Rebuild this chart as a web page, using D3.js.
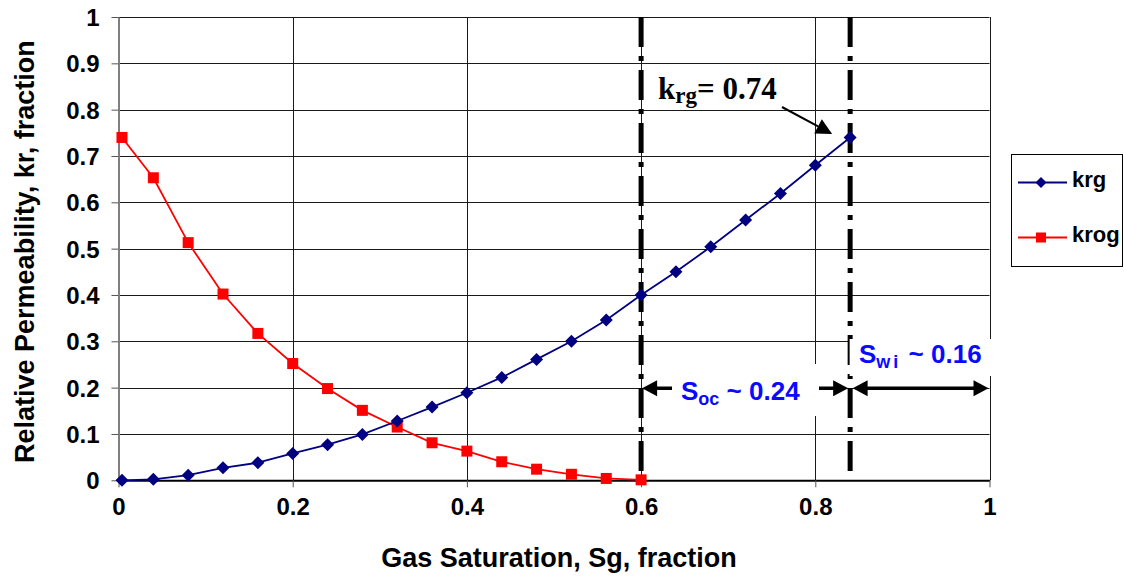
<!DOCTYPE html>
<html>
<head>
<meta charset="utf-8">
<script src="https://cdn.jsdelivr.net/npm/d3@7"></script>
<style>
  html, body { margin: 0; padding: 0; background: #fff; }
  svg { display: block; }
</style>
</head>
<body>
<svg id="chart" width="1124" height="577" font-family="Liberation Sans, Arial, sans-serif" font-weight="bold"></svg>
<script>
// Gas saturation (fraction) at each measured point
const sg = [0.004, 0.04, 0.08, 0.12, 0.16, 0.20, 0.24, 0.28, 0.32, 0.36, 0.40,
            0.44, 0.48, 0.52, 0.56, 0.60, 0.64, 0.68, 0.72, 0.76, 0.80, 0.84];
// Gas relative permeability
const krg = [0.000, 0.002, 0.011, 0.027, 0.038, 0.058, 0.077, 0.099, 0.128, 0.158, 0.189,
             0.222, 0.261, 0.300, 0.346, 0.400, 0.450, 0.504, 0.562, 0.619, 0.680, 0.740];
// Oil relative permeability in presence of gas (first 16 saturations)
const krog = [0.740, 0.653, 0.513, 0.402, 0.317, 0.252, 0.198, 0.151, 0.115, 0.081, 0.063,
              0.040, 0.024, 0.013, 0.004, 0.001];

// End-point saturations
const swi = 0.16;   // connate water
const soc = 0.24;   // critical oil

const xTicks = [0, 0.2, 0.4, 0.6, 0.8, 1];
const xTickLabels = ["0", "0.2", "0.4", "0.6", "0.8", "1"];
const yTicks = [0, 0.1, 0.2, 0.3, 0.4, 0.5, 0.6, 0.7, 0.8, 0.9, 1];
const yTickLabels = ["0", "0.1", "0.2", "0.3", "0.4", "0.5", "0.6", "0.7", "0.8", "0.9", "1"];

const sans = "Liberation Sans, Arial, sans-serif";
const serif = "Liberation Serif, Times New Roman, serif";

const svg = d3.select("#chart");
const x = d3.scaleLinear().domain([0, 1]).range([118.5, 989.5]);
const y = d3.scaleLinear().domain([0, 1]).range([480.3, 17]);
const [x0, x1] = x.range();
const [y0, y1] = y.range();

// Gridlines
const grid = svg.append("g").attr("stroke", "#1a1a1a").attr("stroke-width", 1);
grid.selectAll("line.h").data(yTicks.filter(v => v > 0)).join("line")
  .attr("x1", x0).attr("x2", x1)
  .attr("y1", d => Math.round(y(d)) + 0.5).attr("y2", d => Math.round(y(d)) + 0.5);
grid.selectAll("line.v").data(xTicks.filter(v => v > 0)).join("line")
  .attr("y1", y0).attr("y2", y1)
  .attr("x1", d => Math.round(x(d)) + 0.5).attr("x2", d => Math.round(x(d)) + 0.5);

// Axes
const yAxis = svg.append("g").attr("transform", `translate(${x0},0)`)
  .call(d3.axisLeft(y).tickValues(yTicks).tickFormat((d, i) => yTickLabels[i])
    .tickSizeInner(7).tickSizeOuter(0).tickPadding(12));
yAxis.select(".domain").attr("stroke", "#808080").attr("stroke-width", 2);
yAxis.selectAll(".tick line").attr("stroke", "#555");
yAxis.selectAll(".tick text").attr("font-size", 24).attr("fill", "#000")
  .attr("font-family", sans).attr("font-weight", "bold")
  .attr("dy", "0.36em");

const xAxis = svg.append("g").attr("transform", `translate(0,${y0})`)
  .call(d3.axisBottom(x).tickValues(xTicks).tickFormat((d, i) => xTickLabels[i])
    .tickSizeInner(7).tickSizeOuter(0).tickPadding(11));
xAxis.select(".domain").attr("stroke", "#000").attr("stroke-width", 2);
xAxis.selectAll(".tick line").attr("stroke", "#555");
xAxis.selectAll(".tick text").attr("font-size", 24).attr("fill", "#000")
  .attr("font-family", sans).attr("font-weight", "bold");

// Axis titles
svg.append("text").attr("x", (x0 + x1) / 2 + 5).attr("y", 567)
  .attr("text-anchor", "middle").attr("font-size", 27).text("Gas Saturation, Sg, fraction");
svg.append("text").attr("transform", `translate(34,${(y0 + y1) / 2 + 3}) rotate(-90)`)
  .attr("text-anchor", "middle").attr("font-size", 27).text("Relative Permeability, kr, fraction");

// End-point saturation markers (dash-dot verticals)
const endPoints = [1 - swi - soc, 1 - swi];
svg.append("g").selectAll("line").data(endPoints).join("line")
  .attr("x1", d => x(d)).attr("x2", d => x(d))
  .attr("y1", y1).attr("y2", y0)
  .attr("stroke", "#000").attr("stroke-width", 5)
  .attr("stroke-dasharray", "30,9,5,9");

// Series
const krgPts = sg.map((s, i) => [s, krg[i]]);
const krogPts = krog.map((k, i) => [sg[i], k]);
const line = d3.line().x(d => x(d[0])).y(d => y(d[1]));

svg.append("path").datum(krogPts).attr("d", line)
  .attr("fill", "none").attr("stroke", "#ff0000").attr("stroke-width", 1.8);
svg.append("g").selectAll("rect").data(krogPts).join("rect")
  .attr("x", d => x(d[0]) - 5.5).attr("y", d => y(d[1]) - 5.5)
  .attr("width", 11).attr("height", 11).attr("fill", "#ff0000");

svg.append("path").datum(krgPts).attr("d", line)
  .attr("fill", "none").attr("stroke", "#000080").attr("stroke-width", 1.8);
const diamond = r => `M0,${-r}L${r},0L0,${r}L${-r},0Z`;
svg.append("g").selectAll("path").data(krgPts).join("path")
  .attr("transform", d => `translate(${x(d[0])},${y(d[1])})`)
  .attr("d", diamond(6.5)).attr("fill", "#000080");

// Double-headed span arrows
const arrowY = y(0.2) + 0.6;
function headPath(tipX, dir) {
  // dir = -1 points left, +1 points right
  return `M${tipX},${arrowY}L${tipX - dir * 15},${arrowY - 8}L${tipX - dir * 15},${arrowY + 8}Z`;
}
const spans = [[1 - swi - soc, 1 - swi], [1 - swi, 1]];
const arrows = svg.append("g");
spans.forEach(([a, b], i) => {
  const xa = x(a) + (i === 0 ? 1 : 2.5);
  const xb = x(b) - (i === 0 ? 2 : 1);
  arrows.append("line").attr("x1", xa + 10).attr("x2", xb - 10)
    .attr("y1", arrowY).attr("y2", arrowY).attr("stroke", "#000").attr("stroke-width", 3.5);
  arrows.append("path").attr("d", headPath(xa, -1)).attr("fill", "#000");
  arrows.append("path").attr("d", headPath(xb, 1)).attr("fill", "#000");
});

// Span labels on white backing
const blue = "#0a0aff";
svg.append("rect").attr("x", 672).attr("y", 364).attr("width", 147).attr("height", 52).attr("fill", "#fff");
const tOc = svg.append("text").attr("x", 681).attr("y", 400).attr("font-size", 26).attr("fill", blue);
tOc.append("tspan").text("S");
tOc.append("tspan").attr("font-size", 18).attr("dy", 5).text("oc");
tOc.append("tspan").attr("dy", -5).text(" ~ " + soc.toFixed(2));

svg.append("rect").attr("x", x(1 - swi) - 0.5).attr("y", 339).attr("width", 146).attr("height", 37).attr("fill", "#fff");
const tWi = svg.append("text").attr("x", 859).attr("y", 363).attr("font-size", 26).attr("fill", blue);
tWi.append("tspan").text("S");
tWi.append("tspan").attr("font-size", 18).attr("dy", 5).attr("letter-spacing", 3).text("wi");
tWi.append("tspan").attr("dy", -5).text(" ~ " + swi.toFixed(2));

// Callout for the end-point gas permeability
const endIdx = krg.length - 1;
const px = x(sg[endIdx]), py = y(krg[endIdx]);
const tipX = px - 18, tipY = py - 3.5;
const startX = 782, startY = 107;
const ang = Math.atan2(tipY - startY, tipX - startX);
const hl = 16, hw = 8;
const bx = tipX - hl * Math.cos(ang), by = tipY - hl * Math.sin(ang);
svg.append("line").attr("x1", startX).attr("y1", startY).attr("x2", bx).attr("y2", by)
  .attr("stroke", "#000").attr("stroke-width", 2);
svg.append("path")
  .attr("d", `M${tipX},${tipY}L${bx + hw * Math.sin(ang)},${by - hw * Math.cos(ang)}L${bx - hw * Math.sin(ang)},${by + hw * Math.cos(ang)}Z`)
  .attr("fill", "#000");
const tk = svg.append("text").attr("x", 658).attr("y", 99)
  .attr("font-family", serif).attr("font-size", 31).attr("fill", "#000");
tk.append("tspan").text("k");
tk.append("tspan").attr("font-size", 23).attr("dy", 4).text("rg");
tk.append("tspan").attr("dy", -4).text("= " + krg[endIdx].toFixed(2));

// Legend
const lg = svg.append("g");
lg.append("rect").attr("x", 1011.5).attr("y", 154.5).attr("width", 111).attr("height", 112)
  .attr("fill", "#fff").attr("stroke", "#000").attr("stroke-width", 1);
const legendItems = [
  { name: "krg", color: "#000080", ly: 182.5, shape: "diamond" },
  { name: "krog", color: "#ff0000", ly: 237.5, shape: "square" }
];
legendItems.forEach(it => {
  lg.append("line").attr("x1", 1018).attr("x2", 1067).attr("y1", it.ly).attr("y2", it.ly)
    .attr("stroke", it.color).attr("stroke-width", 1.8);
  if (it.shape === "diamond") {
    lg.append("path").attr("transform", `translate(1041,${it.ly})`).attr("d", diamond(5.5)).attr("fill", it.color);
  } else {
    lg.append("rect").attr("x", 1036).attr("y", it.ly - 5).attr("width", 10).attr("height", 10).attr("fill", it.color);
  }
  lg.append("text").attr("x", 1072).attr("y", it.ly + 4.5).attr("font-size", 22).attr("fill", "#000").text(it.name);
});
</script>
</body>
</html>
